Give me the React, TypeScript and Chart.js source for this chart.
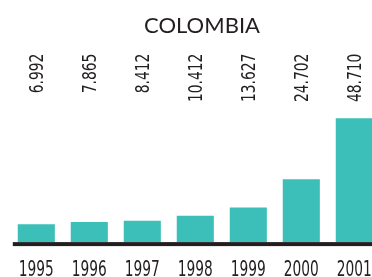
import React, { useEffect, useRef } from "react";
import { Chart, registerables } from "chart.js";

Chart.register(...registerables);

const title = "COLOMBIA";
const years = ["1995", "1996", "1997", "1998", "1999", "2000", "2001"];
const values = [6.992, 7.865, 8.412, 10.412, 13.627, 24.702, 48.71];

const BAR_COLOR = "#3dbfb9";
const INK = "#231f20";
const NARROW = "'DejaVu Sans Condensed', 'Liberation Sans Narrow', sans-serif";
const CAP = 0.729; // cap height ratio of the narrow font

// Draws the baseline, the rotated value labels above the plot and the
// condensed year labels under it, all placed from the chart's own scales.
const labelPlugin = {
  id: "colombiaLabels",
  afterDatasetsDraw(chart: any) {
    const { ctx, chartArea } = chart;
    const xScale = chart.scales.x;
    const yScale = chart.scales.y;
    const meta = chart.getDatasetMeta(0);
    const y0 = yScale.getPixelForValue(0);
    ctx.save();
    ctx.fillStyle = INK;
    ctx.fillRect(chartArea.left + 3, y0, chartArea.right - chartArea.left, 4);

    // value labels, reading bottom to top, top-aligned
    const vSize = 18.6;
    ctx.font = `${vSize}px ${NARROW}`;
    ctx.textAlign = "right";
    ctx.textBaseline = "alphabetic";
    meta.data.forEach((bar: any, i: number) => {
      ctx.save();
      ctx.translate(bar.x, chartArea.top - 61.5);
      ctx.rotate(-Math.PI / 2);
      ctx.scale(0.83, 1);
      ctx.fillText(values[i].toFixed(3), 0, (vSize * CAP) / 2);
      ctx.restore();
    });

    // year labels
    const ySize = 21.5;
    ctx.font = `${ySize}px ${NARROW}`;
    ctx.textAlign = "center";
    ctx.textBaseline = "alphabetic";
    years.forEach((label, i) => {
      const x = xScale.getPixelForTick(i);
      ctx.save();
      ctx.translate(x, chartArea.bottom + 33.6);
      ctx.scale(0.71, 1);
      ctx.fillText(label, 0, 0);
      ctx.restore();
    });
    ctx.restore();
  },
};

export default function App() {
  const ref = useRef<HTMLCanvasElement>(null);
  useEffect(() => {
    if (!ref.current) return;
    const chart = new Chart(ref.current, {
      type: "bar",
      data: {
        labels: years,
        datasets: [
          {
            data: values,
            backgroundColor: BAR_COLOR,
            borderWidth: 0,
            barPercentage: 0.7,
            categoryPercentage: 1.0,
          },
        ],
      },
      options: {
        responsive: false,
        animation: false,
        layout: { padding: { left: 9.8, right: 0.8, top: 0, bottom: 34.9 } },
        plugins: {
          legend: { display: false },
          tooltip: { enabled: false },
          title: {
            display: true,
            text: title,
            color: INK,
            font: { family: "Lato, 'Open Sans', sans-serif", size: 22, weight: "normal" },
            padding: { top: 13, bottom: 75.65 },
          },
        },
        scales: {
          x: {
            type: "category",
            grid: { display: false, drawTicks: false },
            border: { display: false },
            ticks: { display: false },
          },
          y: {
            display: false,
            min: 0,
            max: 50,
          },
          yRight: {
            type: "linear",
            position: "right",
            display: true,
            grid: { display: false, drawTicks: false },
            border: { display: false },
            ticks: { display: false },
            afterFit: (s: any) => {
              s.width = 13.4;
            },
          },
        },
      },
      plugins: [labelPlugin],
    });
    return () => chart.destroy();
  }, []);
  return (
    <div
      style={{
        position: "fixed",
        left: 0,
        top: 0,
        width: 372,
        height: 277,
        overflow: "hidden",
        background: "#fff",
      }}
    >
      <canvas ref={ref} width={395} height={277} style={{ display: "block" }} />
    </div>
  );
}
